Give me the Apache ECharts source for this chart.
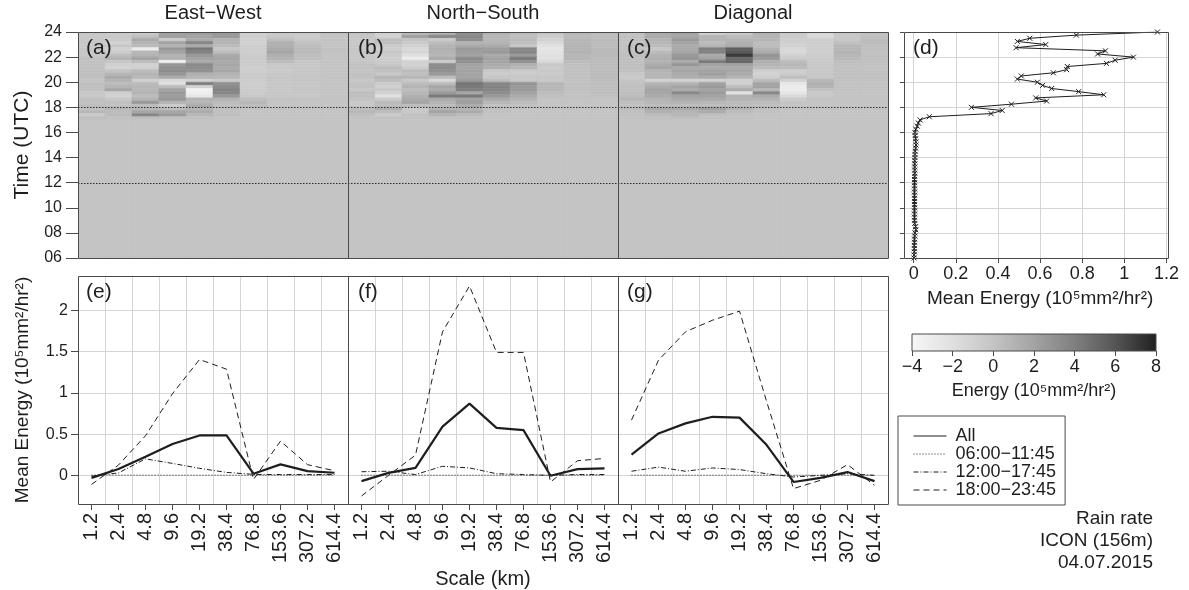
<!DOCTYPE html>
<html><head><meta charset="utf-8">
<script src="https://cdn.jsdelivr.net/npm/echarts@6/dist/echarts.min.js"></script>
<style>html,body{margin:0;padding:0;background:#fff}#c{width:1189px;height:590px}</style>
</head><body><div id="c"></div>
<script>
// ---------------- DATA ----------------
const scales = ['1.2','2.4','4.8','9.6','19.2','38.4','76.8','153.6','307.2','614.4'];
const panelTitles = ['East\u2212West','North\u2212South','Diagonal'];
const seriesNames = ['All','06:00\u221211:45','12:00\u221217:45','18:00\u221223:45'];
const periodBounds = [12, 18];          // dotted period separators (UTC hour)
const quietPeriod = [6, 17];            // 06:00-17:00: energy field is 0
const quietValue = 0;
const heatTopRowStart = 23.75;          // first row = 23:45-24:00, rows step 15 min down to 17:00
const heatStep = 0.25;

// Heat rows (23:45 at top -> 17:00 at bottom), 10 scales each
const heatEW = [
 [-0.3,-0.5,-0.5,2.0,2.2,2.5,-0.8,-0.5,-0.5,0],
 [-0.3,-0.3,0.3,2.3,2.0,2.6,-0.8,-0.3,-0.5,0],
 [-0.2,-0.5,1.5,-0.5,1.5,1.0,-0.9,0.3,-0.3,0],
 [-0.2,-1.0,1.0,2.0,3.6,1.0,-0.9,1.2,0.2,0],
 [-0.3,-0.2,0.5,1.0,1.5,0.5,-0.7,1.2,0.4,0],
 [-0.2,-1.0,-3.0,2.6,4.3,-0.3,-0.7,1.5,0.6,0.1],
 [-0.2,-0.5,0.8,2.0,3.8,0.5,-0.8,1.8,0.6,0.1],
 [-0.2,0.3,1.0,1.0,2.5,1.5,-0.5,1.2,0.3,0],
 [0.2,1.0,2.0,1.2,2.0,1.8,-0.5,1.0,0.3,0],
 [0.1,-0.3,0.5,-3.2,1.5,1.5,-0.6,0.5,-0.2,0],
 [0.2,-0.8,-1.0,2.6,3.4,1.8,-0.6,-0.3,-0.3,0],
 [0.2,-1.0,-0.8,3.0,3.2,1.5,-0.7,-0.3,-0.3,0],
 [0.3,0.0,0.5,3.2,3.0,1.8,-0.7,-0.5,-0.2,0],
 [0.3,0.8,1.0,2.8,1.2,1.0,-0.5,-0.3,-0.2,0],
 [0.2,1.5,0.6,1.5,0.8,0.8,-0.6,-0.2,-0.2,0],
 [0.0,1.0,-0.8,-1.5,-1.0,-0.5,-0.6,-0.2,-0.1,0],
 [0.3,0.5,0.5,-2.0,4.0,3.0,-0.7,-0.3,-0.2,0],
 [0.3,1.0,0.8,0.5,-1.0,3.4,-0.6,-0.2,-0.2,0],
 [0.2,1.8,0.8,2.0,-3.5,3.8,-0.6,-0.3,-0.1,0],
 [-0.2,-0.8,1.0,2.5,-3.2,3.6,-0.5,-0.2,-0.2,0],
 [-0.3,-1.0,0.5,2.3,-2.5,2.5,-0.3,-0.2,-0.3,0],
 [0.2,-0.3,1.0,2.6,1.0,1.0,0.3,0,0,0],
 [0.1,0.2,2.6,1.0,0.8,0.5,0.8,0,0,0],
 [0.5,0.2,0.5,-0.5,1.5,0.3,0.5,0,0,0],
 [0.3,0.8,0.8,0.5,1.0,0.2,0,0,0,0],
 [0.8,0.5,1.8,1.8,1.5,0.3,0,0,0,0],
 [-0.5,0.5,3.5,2.5,0.8,0.3,0,0,0,0],
 [0.3,0.2,0.3,0.2,0.2,0,0,0,0,0]
];
const heatNS = [
 [0,-1.0,0.5,1.0,3.0,1.0,0.5,-0.3,0.6,0.5],
 [-0.2,-1.0,2.3,3.5,3.5,0.8,0.3,-0.5,0.6,0.5],
 [-0.2,0.3,0.0,-0.5,3.2,0.8,0.5,-1.0,0.8,0.5],
 [-0.3,0.3,-0.5,0.5,1.0,1.0,0.3,-1.5,0.8,0.5],
 [-0.2,-0.5,-1.0,1.0,1.5,1.5,-0.3,-2.0,1.0,0.5],
 [-0.2,-0.8,-1.5,1.2,2.5,2.3,3.5,-2.5,1.0,0.6],
 [-0.2,-0.3,-1.2,1.0,2.3,2.5,3.6,-2.3,1.0,0.6],
 [-0.3,-0.6,-2.0,0.8,2.0,1.5,2.5,-2.0,0.8,0.6],
 [-0.3,-0.8,-3.0,1.5,3.3,2.0,4.2,-2.0,0.8,0.5],
 [-0.2,-0.5,-1.0,-0.5,3.0,1.8,3.0,-1.5,0.5,0.5],
 [0.2,-0.2,-1.0,3.2,2.0,1.5,1.2,-0.3,0.3,0.5],
 [0.1,0.5,-0.5,3.3,1.8,1.2,0.8,-0.5,0.2,0.5],
 [0,0.2,0.5,3.0,2.0,-0.3,-0.5,-0.3,0.2,0.5],
 [0.2,-0.3,0.3,2.5,2.0,-0.5,-0.5,-0.5,0.2,0.4],
 [0.1,0.8,0.8,0.5,1.8,-0.3,-0.3,-0.2,0.2,0.4],
 [-0.3,0.5,-0.3,-1.5,2.5,0.5,-0.3,-0.3,0.1,0.4],
 [0.1,-0.5,0.5,0.5,4.5,3.5,2.8,0.8,0.2,0.3],
 [0.2,-0.8,1.0,1.8,4.3,3.8,2.5,0.8,0.2,0.3],
 [-0.2,-0.3,0.5,1.5,4.0,3.6,2.5,0.8,0.2,0.3],
 [0.3,-1.0,0.8,2.5,1.8,3.2,2.0,0.5,0.1,0.3],
 [0.3,-2.0,1.2,4.2,4.3,2.5,1.5,0.3,0.1,0.2],
 [0.0,-0.5,1.5,1.5,2.0,1.5,1.0,0,0,0],
 [-0.3,0.5,2.0,1.0,2.3,0.8,0.5,0,0,0],
 [-0.2,0.5,0.5,0.5,1.5,0.2,0.2,0,0,0],
 [0.5,1.2,-0.5,1.0,1.0,0.2,0,0,0,0],
 [0.8,0.5,-0.3,2.0,1.5,0.2,0,0,0,0],
 [0.3,-0.5,0.2,1.0,0.5,0,0,0,0,0],
 [0.1,0.1,0.1,0.1,0.1,0,0,0,0,0]
];
const heatDiag = [
 [0,1.5,1.8,-1.0,-0.5,1.0,-0.5,-1.5,-0.3,0.2],
 [0.2,1.5,1.8,1.0,0.5,1.0,-0.5,-1.5,-0.3,0.3],
 [0.1,1.0,2.5,1.0,1.0,0.8,-0.8,-0.8,-0.2,0.5],
 [0,0.8,2.0,0.5,1.2,0.5,-0.8,-0.8,0.2,0.5],
 [0.2,0.5,1.5,1.0,1.5,0.5,-1.0,-0.8,0.8,0.3],
 [0.1,-0.3,1.5,4.0,5.5,1.0,-1.5,-0.8,0.8,0.3],
 [0.2,0.5,1.8,3.8,5.8,1.5,-1.5,-0.8,1.0,0.2],
 [0.3,1.0,2.5,1.5,7.0,2.8,-1.0,-0.6,0.8,0.2],
 [0.2,1.2,2.8,2.0,5.0,2.5,-0.5,-0.5,0.6,0.2],
 [0.2,1.0,1.5,4.2,5.2,1.2,0.5,-0.5,0.3,0.2],
 [0.3,1.5,2.8,2.0,2.0,1.0,0.8,-0.3,0.2,0.1],
 [0.3,1.8,1.5,1.5,1.5,0.5,0.5,-0.3,0.1,0.1],
 [0.2,1.0,1.8,2.0,1.8,-0.8,-0.8,-0.3,0.1,0.1],
 [-0.3,0.8,1.5,2.2,1.5,-1.0,-0.5,-0.3,0.1,0.1],
 [-0.5,0.8,1.2,1.5,1.0,-0.8,0.3,-0.3,0.1,0.1],
 [0.0,-1.0,-1.0,-1.0,-1.0,0.5,-1.0,0.8,0.1,0.1],
 [0.2,1.0,1.0,2.0,-0.8,1.8,-2.5,1.2,0.1,0.1],
 [0.3,1.5,2.0,2.5,0.5,2.0,-3.0,1.0,0.1,0.1],
 [0.2,2.0,1.5,2.0,1.5,0.8,-3.0,0.2,0.1,0],
 [0.3,1.8,3.5,2.5,-2.0,3.5,-2.5,-0.3,0,0],
 [0.5,1.5,2.0,2.0,1.0,1.5,-1.5,-0.3,0,0],
 [0.8,1.0,1.5,1.5,1.0,1.0,-0.5,0,0,0],
 [0.3,0.8,1.0,0.8,0.5,0.5,0,0,0,0],
 [0.2,0.5,0.5,0.5,0.5,0.3,0,0,0,0],
 [0.5,1.5,1.5,2.0,1.0,0.3,0,0,0,0],
 [0.3,1.2,1.0,1.5,0.5,0.2,0,0,0,0],
 [0.2,0.5,0.8,0.3,0.2,0,0,0,0,0],
 [0.1,0.2,0.3,0.1,0.1,0,0,0,0,0]
];

// Panel (d): mean energy, 06:00 .. 24:00 every 15 min
const meanStartHour = 6, meanStep = 0.25;
const meanEnergy = [
 0.002,0.002,0.003,0.003, 0.003,0.004,0.004,0.005, 0.006,0.010,0.009,0.005,
 0.004,0.004,0.004,0.004, 0.004,0.004,0.004,0.004, 0.004,0.004,0.004,0.004,
 0.004,0.004,0.005,0.005, 0.005,0.005,0.005,0.005, 0.006,0.006,0.007,0.009,
 0.011,0.010,0.009,0.007, 0.006,0.010,0.017,0.022,
 0.030,0.074,0.367,0.420, 0.274,0.464,0.631,0.579,
 0.902,0.783,0.655,0.612, 0.587,0.492,0.511,0.663,
 0.726,0.729,0.915,0.956, 1.043,0.873,0.910,0.486,
 0.627,0.492,0.551,0.772, 1.157
];

// Panels (e)-(g): mean energy per scale
const ewAll = [-0.03,0.077,0.225,0.38,0.484,0.484,0.02,0.133,0.052,0.032];
const ewP06 = [0.003,0.003,0.002,0.002,0.002,0.002,0.002,0.002,0.002,0.002];
const ewP12 = [-0.01,0.03,0.2,0.145,0.085,0.036,0.012,0.01,0.01,0.01];
const ewP18 = [-0.11,0.125,0.48,0.99,1.404,1.287,-0.05,0.415,0.13,0.056];

const nsAll = [-0.07,0.03,0.09,0.59,0.87,0.576,0.548,-0.005,0.076,0.085];
const nsP06 = [0.002,0.002,0.002,0.002,0.002,0.002,0.002,0.002,0.002,0.002];
const nsP12 = [0.044,0.05,0.01,0.11,0.09,0.02,0.01,0.0,0.01,0.01];
const nsP18 = [-0.25,0.0,0.245,1.74,2.295,1.49,1.49,-0.08,0.177,0.205];

const dgAll = [0.25,0.508,0.63,0.71,0.70,0.37,-0.08,-0.03,0.04,-0.07];
const dgP06 = [0.002,0.002,0.002,0.002,0.002,0.002,0.002,0.002,0.002,0.002];
const dgP12 = [0.05,0.1,0.05,0.09,0.07,0.02,-0.02,0.0,0.02,0.0];
const dgP18 = [0.67,1.396,1.74,1.88,1.99,0.9,-0.16,-0.06,0.13,-0.12];

const lowerYLabels = [0, 0.5, 1, 1.5, 2];
const energyRange = [-4, 8];
const notes = ['Rain rate', 'ICON (156m)', '04.07.2015'];

// ---------------- STYLE ----------------
const FONT = "'Liberation Sans', Arial, Helvetica, sans-serif";
const TXT = '#1e1e1e', FRAME = '#4a4a4a', GRIDC = '#d4d4d4', LINEC = '#1e1e1e';
const grays = ['#f7f7f7','#e0e0e0','#c4c4c4','#a3a3a3','#7f7f7f','#555555','#202020'];
const minus = v => (v < 0 ? '\u2212' + Math.abs(v) : String(v));

const chart = echarts.init(document.getElementById('c'), null, {renderer: 'canvas', width: 1189, height: 590});

function heatItems(rows) {
  const items = [];
  for (let c = 0; c < scales.length; c++) items.push([c, quietPeriod[0], quietPeriod[1], quietValue]);
  rows.forEach((row, r) => {
    const t0 = heatTopRowStart - heatStep * r;
    row.forEach((v, c) => items.push([c, t0, t0 + heatStep, v]));
  });
  return items;
}
function renderCell(params, api) {
  const c = api.value(0), t0 = api.value(1), t1 = api.value(2);
  const p0 = api.coord([c, t1]), p1 = api.coord([c + 1, t0]);
  const col = api.visual('color');
  return {type: 'rect', shape: {x: p0[0], y: p0[1], width: p1[0] - p0[0], height: p1[1] - p0[1]},
          style: {fill: col, stroke: col, lineWidth: 0.6}};
}
function renderPeriod(params, api) {
  const v = api.value(1);
  const a = api.coord([0, v]), b = api.coord([scales.length, v]);
  return {type: 'line', shape: {x1: a[0], y1: Math.round(a[1]) + 0.5, x2: b[0], y2: Math.round(b[1]) + 0.5},
          style: {stroke: '#2a2a2a', lineWidth: 1, lineDash: [1.5, 1.5]}, z2: 10};
}

const gridRects = [
  [78, 32, 270, 226], [348, 32, 270, 226], [618, 32, 270, 226],
  [913.7, 32, 252.8, 226],
  [78, 276, 270, 228], [348, 276, 270, 228], [618, 276, 270, 228],
  [912, 334, 244, 17],
  [904, 32, 264, 226]
];
const grid = gridRects.map(r => ({left: r[0], top: r[1], width: r[2], height: r[3], show: false, containLabel: false, outerBoundsMode: 'none'}));

const tickLine = {color: FRAME, width: 1};
const xAxis = [], yAxis = [];
// heat panels
for (let i = 0; i < 3; i++) {
  xAxis.push({type: 'value', gridIndex: i, min: 0, max: scales.length, show: false});
  yAxis.push({type: 'value', gridIndex: i, min: 6, max: 24, interval: 2, show: i === 0,
    axisLine: {show: false}, axisTick: {show: true, length: 12, lineStyle: tickLine},
    axisLabel: {fontSize: 16, color: TXT, fontFamily: FONT, margin: 16, formatter: v => String(v).padStart(2, '0')},
    splitLine: {show: false},
    name: 'Time (UTC)', nameLocation: 'middle', nameGap: 45, nameTextStyle: {fontSize: 21, color: TXT, fontFamily: FONT}});
}
// (d)
xAxis.push({type: 'value', gridIndex: 3, min: 0, max: 1.2, interval: 0.2,
  axisLine: {show: false}, axisTick: {show: true, length: 5, lineStyle: tickLine},
  axisLabel: {fontSize: 18, color: TXT, fontFamily: FONT, margin: 7},
  splitLine: {show: true, lineStyle: {color: GRIDC, width: 1}},
  name: 'Mean Energy (10\u2075mm\u00b2/hr\u00b2)', nameLocation: 'middle', nameGap: 31,
  nameTextStyle: {fontSize: 19, color: TXT, fontFamily: FONT}});
yAxis.push({type: 'value', gridIndex: 3, min: 6, max: 24, interval: 2, show: false});
// lower panels
const lowerNames = [null, 'Scale (km)', null];
for (let i = 0; i < 3; i++) {
  xAxis.push({type: 'category', gridIndex: 4 + i, data: scales, boundaryGap: true,
    axisLine: {show: false, onZero: false}, axisTick: {show: true, alignWithLabel: true, length: 6, lineStyle: tickLine},
    axisLabel: {interval: 0, rotate: 90, fontSize: 20, color: TXT, fontFamily: FONT, margin: 9},
    splitLine: {show: true, interval: 0, lineStyle: {color: GRIDC, width: 1}},
    name: lowerNames[i] || '', nameLocation: 'middle', nameGap: 65,
    nameTextStyle: {fontSize: 20, color: TXT, fontFamily: FONT}});
  yAxis.push({type: 'value', gridIndex: 4 + i, min: -0.347, max: 2.416, splitNumber: 5,
    axisLine: {show: false, onZero: false},
    axisTick: {show: i === 0, length: 7, lineStyle: tickLine, customValues: lowerYLabels},
    axisLabel: {show: i === 0, fontSize: 16, color: TXT, fontFamily: FONT, margin: 10, customValues: lowerYLabels},
    splitLine: {show: true, lineStyle: {color: GRIDC, width: 1}},
    name: i === 0 ? 'Mean Energy (10\u2075mm\u00b2/hr\u00b2)' : '', nameLocation: 'middle', nameGap: 46,
    nameTextStyle: {fontSize: 19, color: TXT, fontFamily: FONT}});
}
// colorbar
xAxis.push({type: 'value', gridIndex: 7, min: energyRange[0], max: energyRange[1], interval: 2,
  axisLine: {show: false}, axisTick: {show: true, length: 5, lineStyle: tickLine},
  axisLabel: {fontSize: 18, color: TXT, fontFamily: FONT, margin: 7, formatter: minus},
  splitLine: {show: false},
  name: 'Energy (10\u2075mm\u00b2/hr\u00b2)', nameLocation: 'middle', nameGap: 31,
  nameTextStyle: {fontSize: 18, color: TXT, fontFamily: FONT}});
yAxis.push({type: 'value', gridIndex: 7, min: 0, max: 1, show: false});
// (d) frame-wide horizontal grid
xAxis.push({type: 'value', gridIndex: 8, min: 0, max: 1, show: false});
yAxis.push({type: 'value', gridIndex: 8, min: 6, max: 24, interval: 2,
  axisLine: {show: false}, axisTick: {show: true, length: 4, lineStyle: tickLine},
  axisLabel: {show: false}, splitLine: {show: true, lineStyle: {color: GRIDC, width: 1}}});

const series = [];
[heatEW, heatNS, heatDiag].forEach((rows, i) => {
  series.push({type: 'custom', name: 'heat' + i, xAxisIndex: i, yAxisIndex: i, data: heatItems(rows),
    encode: {x: 0, y: [1, 2]}, renderItem: renderCell, silent: true, clip: true, z: 2});
});
for (let i = 0; i < 3; i++) {
  series.push({type: 'custom', name: 'period' + i, xAxisIndex: i, yAxisIndex: i,
    data: periodBounds.map(v => [0, v]), encode: {x: 0, y: 1}, renderItem: renderPeriod, silent: true, z: 5});
}
series.push({type: 'line', name: 'mean', xAxisIndex: 3, yAxisIndex: 3,
  data: meanEnergy.map((v, k) => [v, meanStartHour + meanStep * k]),
  symbol: 'path://M0,0L10,10M10,0L0,10', symbolSize: 5, showSymbol: true,
  lineStyle: {color: LINEC, width: 1}, itemStyle: {color: LINEC, borderColor: LINEC, borderWidth: 1},
  silent: true, z: 5});
const styles = [
  {width: 2.2, type: 'solid'},
  {width: 1, type: [1, 2]},
  {width: 1, type: [5, 2, 1, 2]},
  {width: 1, type: [6, 4]}
];
[[ewAll, ewP06, ewP12, ewP18], [nsAll, nsP06, nsP12, nsP18], [dgAll, dgP06, dgP12, dgP18]].forEach((set, i) => {
  set.forEach((vals, k) => {
    series.push({type: 'line', name: seriesNames[k], xAxisIndex: 4 + i, yAxisIndex: 4 + i, data: vals,
      symbol: 'none', lineStyle: {color: LINEC, width: styles[k].width, type: styles[k].type},
      itemStyle: {color: LINEC}, silent: true, z: k === 0 ? 6 : 5});
  });
});
series.push({type: 'custom', name: 'colorbar', xAxisIndex: 7, yAxisIndex: 7, data: [[energyRange[0], energyRange[1]]],
  encode: {x: [0, 1]},
  renderItem: (params, api) => {
    const a = api.coord([api.value(0), 1]), b = api.coord([api.value(1), 0]);
    return {type: 'rect', shape: {x: a[0], y: a[1], width: b[0] - a[0], height: b[1] - a[1]},
      style: {fill: new echarts.graphic.LinearGradient(0, 0, 1, 0,
        grays.map((c, k) => ({offset: k / (grays.length - 1), color: c}))), stroke: FRAME, lineWidth: 1}};
  }, silent: true});

// frames and texts
const frames = [[78,32,270,226],[348,32,270,226],[618,32,270,226],[904,32,264,226],[78,276,270,228],[348,276,270,228],[618,276,270,228]];
const graphic = frames.map(f => ({type: 'rect', z: 100, silent: true,
  shape: {x: f[0] + 0.5, y: f[1] + 0.5, width: f[2], height: f[3]}, style: {fill: null, stroke: FRAME, lineWidth: 1}}));
const txt = (x, y, s, size, align) => ({type: 'text', x, y, z: 101, silent: true,
  style: {text: s, fontSize: size, fontFamily: FONT, fill: TXT, align: align || 'left', verticalAlign: 'middle'}});
panelTitles.forEach((t, i) => graphic.push(txt(213 + 270 * i, 13, t, 20, 'center')));
[['(a)',86,48],['(b)',358,48],['(c)',627,48],['(d)',913,48],['(e)',86,292],['(f)',358,292],['(g)',627,292]]
  .forEach(p => graphic.push(txt(p[1], p[2], p[0], 21)));
notes.forEach((t, i) => graphic.push(txt(1153, 519 + 22 * i, t, 19, 'right')));

chart.setOption({
  animation: false,
  backgroundColor: '#ffffff',
  textStyle: {fontFamily: FONT},
  grid, xAxis, yAxis, series, graphic,
  visualMap: {type: 'continuous', show: false, min: energyRange[0], max: energyRange[1], dimension: 3,
    seriesIndex: [0, 1, 2], inRange: {color: grays}},
  legend: {show: true, data: seriesNames, orient: 'vertical', left: 898, top: 416,
    padding: [11, 9, 6, 15], itemGap: 0, itemWidth: 33, itemHeight: 12, selectedMode: false,
    borderColor: FRAME, borderWidth: 1, lineStyle: {width: 1}, itemStyle: {opacity: 0, borderWidth: 0},
    textStyle: {fontSize: 18, color: TXT, fontFamily: FONT, lineHeight: 16.5, padding: [0, 0, 0, 4]}}
});
</script></body></html>
